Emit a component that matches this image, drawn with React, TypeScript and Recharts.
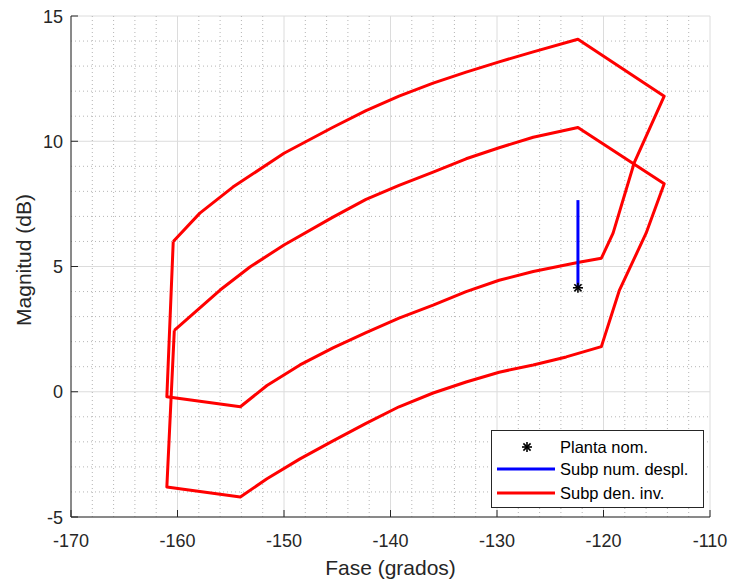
import { ScatterChart, Scatter, XAxis, YAxis, CartesianGrid, ReferenceLine, Legend, Label } from 'recharts'

const FONT = '"Liberation Sans", Arial, Helvetica, sans-serif'
const INK = '#262626'

const xTicks = [-170, -160, -150, -140, -130, -120, -110]
const yTicks = [-5, 0, 5, 10, 15]
const xMinor = [
  -168, -166, -164, -162, -158, -156, -154, -152, -148, -146, -144, -142, -138, -136, -134, -132, -128, -126, -124,
  -122, -118, -116, -114, -112,
]
const yMinor = [-4, -3, -2, -1, 1, 2, 3, 4, 6, 7, 8, 9, 11, 12, 13, 14]

// subplanta denominador invertido: banda superior
const upperPhase = [
  -160.4, -157.9, -154.8, -150.0, -145.4, -142.3, -139.2, -136.0, -132.9, -129.8, -126.6, -122.4, -114.3, -117.1,
  -119.1, -120.2, -122.3, -126.6, -129.8, -132.9, -136.0, -139.2, -142.3, -145.4, -148.5, -151.6, -154.1, -161.0,
  -160.4,
]
const upperMag = [
  6.0, 7.13, 8.17, 9.52, 10.56, 11.22, 11.8, 12.32, 12.76, 13.17, 13.57, 14.07, 11.8, 9.16, 6.33, 5.33, 5.17, 4.8,
  4.45, 4.0, 3.46, 2.94, 2.36, 1.75, 1.07, 0.25, -0.6, -0.2, 6.0,
]

// banda inferior
const lowerPhase = [
  -160.3, -156.0, -153.2, -150.0, -145.4, -142.3, -139.2, -136.0, -132.9, -129.8, -126.6, -122.4, -114.3, -116.0,
  -118.5, -120.2, -123.5, -126.6, -129.8, -132.9, -136.0, -139.2, -142.3, -145.4, -148.5, -151.6, -154.1, -161.0,
  -160.3,
]
const lowerMag = [
  2.45, 4.06, 4.98, 5.86, 6.97, 7.68, 8.24, 8.77, 9.3, 9.74, 10.16, 10.55, 8.3, 6.33, 4.06, 1.8, 1.39, 1.07, 0.78,
  0.39, -0.05, -0.6, -1.26, -1.96, -2.68, -3.47, -4.2, -3.8, 2.45,
]

// subplanta numerador desplazado
const numPhase = [-122.4, -122.4]
const numMag = [4.15, 7.65]

// planta nominal
const nomPhase = [-122.4]
const nomMag = [4.15]

const toPoints = (xs: number[], ys: number[]) => xs.map((x, i) => ({ x, y: ys[i] }))

const Asterisk = ({ cx, cy, r = 5 }: { cx: number; cy: number; r?: number }) => {
  const d = r * 0.72
  return (
    <g stroke="#000" strokeWidth={1.6}>
      <line x1={cx - r} y1={cy} x2={cx + r} y2={cy} />
      <line x1={cx} y1={cy - r} x2={cx} y2={cy + r} />
      <line x1={cx - d} y1={cy - d} x2={cx + d} y2={cy + d} />
      <line x1={cx - d} y1={cy + d} x2={cx + d} y2={cy - d} />
    </g>
  )
}

const XTick = ({ x, y, payload }: any) => (
  <g>
    <line x1={x} y1={y} x2={x} y2={y - 7} stroke={INK} />
    <text x={x} y={y + 30} textAnchor="middle" fontSize={18} fill={INK} fontFamily={FONT}>
      {payload.value}
    </text>
  </g>
)

const YTick = ({ x, y, payload }: any) => (
  <g>
    <line x1={x} y1={y} x2={x + 7} y2={y} stroke={INK} />
    <text x={x - 8} y={y + 6.5} textAnchor="end" fontSize={18} fill={INK} fontFamily={FONT}>
      {payload.value}
    </text>
  </g>
)

const LegendBox = () => (
  <svg width={213} height={78} style={{ display: 'block' }}>
    <rect x={0.5} y={0.5} width={212} height={77} fill="#fff" stroke={INK} />
    <Asterisk cx={36} cy={17} />
    <text x={69} y={23} fontSize={16.5} fill="#000" fontFamily={FONT}>
      Planta nom.
    </text>
    <line x1={6} y1={39} x2={64} y2={39} stroke="#0000ff" strokeWidth={3} />
    <text x={69} y={45} fontSize={16.5} fill="#000" fontFamily={FONT}>
      Subp num. despl.
    </text>
    <line x1={6} y1={63} x2={64} y2={63} stroke="#ff0000" strokeWidth={3} />
    <text x={69} y={69} fontSize={16.5} fill="#000" fontFamily={FONT}>
      Subp den. inv.
    </text>
  </svg>
)

export default function App() {
  return (
    <div style={{ position: 'absolute', left: 0, top: 0, width: 731, height: 581, background: '#fff' }}>
      <ScatterChart width={731} height={581} margin={{ top: 16, right: 21, left: 0, bottom: 0 }}>
        <CartesianGrid stroke="#dcdcdc" />
        {xMinor.map((v) => (
          <ReferenceLine key={'x' + v} x={v} stroke="#b5b5b5" strokeDasharray="1 3" />
        ))}
        {yMinor.map((v) => (
          <ReferenceLine key={'y' + v} y={v} stroke="#b5b5b5" strokeDasharray="1 3" />
        ))}
        <XAxis
          type="number"
          dataKey="x"
          domain={[-170, -110]}
          ticks={xTicks}
          interval={0}
          allowDataOverflow
          height={64}
          tickLine={false}
          tickSize={0}
          tickMargin={0}
          tick={<XTick />}
          axisLine={{ stroke: INK }}
        >
          <Label
            content={({ viewBox }: any) => (
              <text
                x={viewBox.x + viewBox.width / 2}
                y={575}
                textAnchor="middle"
                fontSize={21}
                fill={INK}
                fontFamily={FONT}
              >
                Fase (grados)
              </text>
            )}
          />
        </XAxis>
        <YAxis
          type="number"
          dataKey="y"
          domain={[-5, 15]}
          ticks={yTicks}
          interval={0}
          allowDataOverflow
          width={71}
          tickLine={false}
          tickSize={0}
          tickMargin={0}
          tick={<YTick />}
          axisLine={{ stroke: INK }}
        >
          <Label
            content={() => (
              <text
                x={31}
                y={260}
                transform="rotate(-90 31 260)"
                textAnchor="middle"
                fontSize={21}
                fill={INK}
                fontFamily={FONT}
              >
                Magnitud (dB)
              </text>
            )}
          />
        </YAxis>
        <Scatter
          data={toPoints(upperPhase, upperMag)}
          line={{ stroke: '#ff0000', strokeWidth: 3, strokeLinejoin: 'round' }}
          shape={() => <g />}
          isAnimationActive={false}
        />
        <Scatter
          data={toPoints(lowerPhase, lowerMag)}
          line={{ stroke: '#ff0000', strokeWidth: 3, strokeLinejoin: 'round' }}
          shape={() => <g />}
          isAnimationActive={false}
        />
        <Scatter
          data={toPoints(numPhase, numMag)}
          line={{ stroke: '#0000ff', strokeWidth: 3 }}
          shape={() => <g />}
          isAnimationActive={false}
        />
        <Scatter
          data={toPoints(nomPhase, nomMag)}
          shape={(p: any) => <Asterisk cx={p.cx} cy={p.cy} />}
          isAnimationActive={false}
        />
        <Legend
          layout="horizontal"
          verticalAlign="middle"
          align="center"
          wrapperStyle={{ left: 491, top: 430, width: 213, height: 78 }}
          content={() => <LegendBox />}
        />
      </ScatterChart>
    </div>
  )
}
